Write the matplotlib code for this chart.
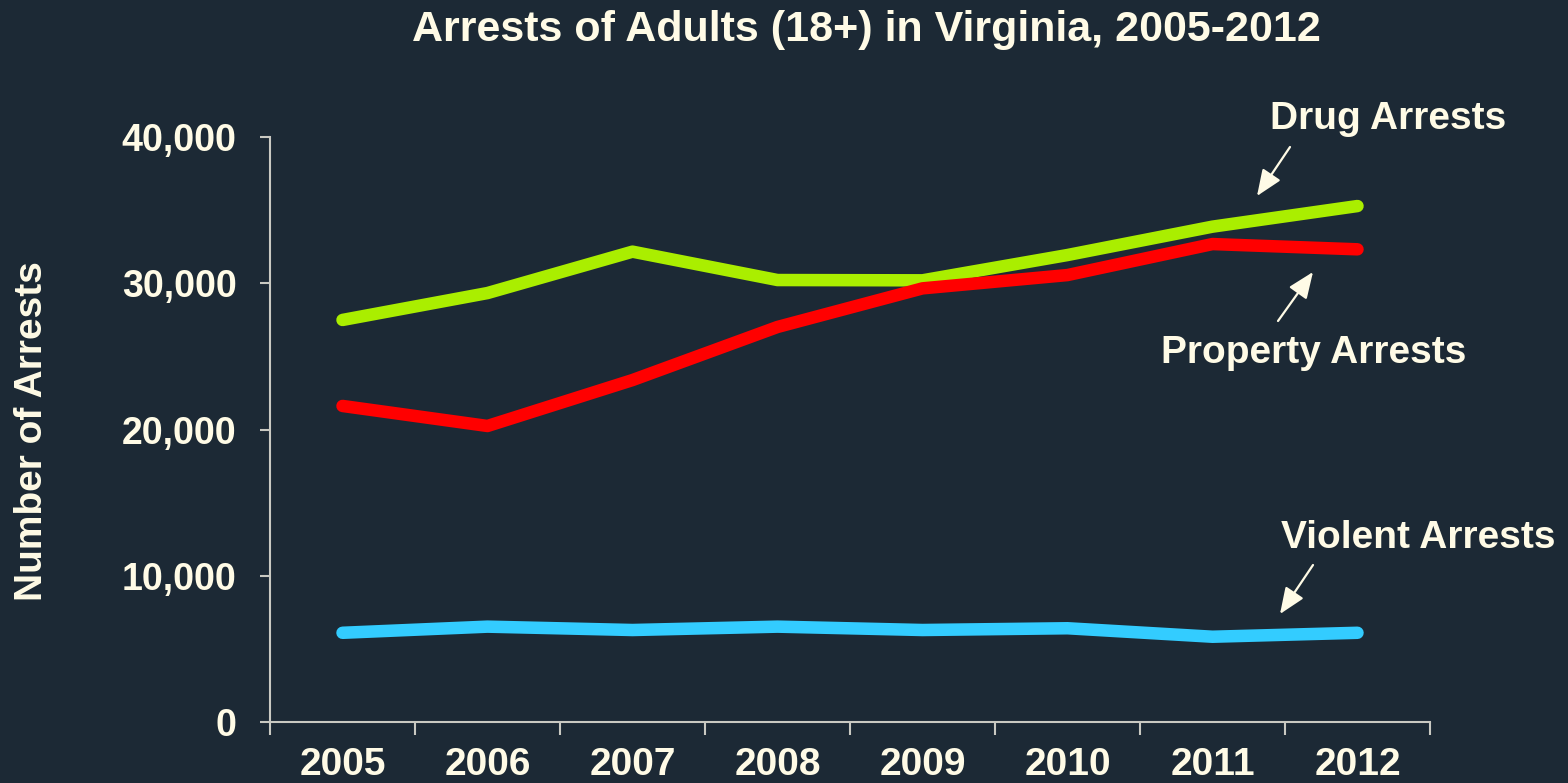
import matplotlib
matplotlib.use("Agg")
import matplotlib.pyplot as plt
import numpy as np

years = ["2005", "2006", "2007", "2008", "2009", "2010", "2011", "2012"]
drug = [27490, 29330, 32160, 30220, 30200, 31930, 33870, 35280]
property_ = [21610, 20240, 23380, 27010, 29650, 30560, 32680, 32320]
violent = [6100, 6520, 6290, 6520, 6290, 6410, 5830, 6100]
yticks = [0, 10000, 20000, 30000, 40000]

BG = "#1c2935"
TXT = "#fffbe6"
AX = "#c9c9c2"

plt.rcParams['font.family'] = ['Liberation Sans', 'DejaVu Sans']
plt.rcParams['font.weight'] = 'bold'

W, H = 1568, 783
fig = plt.figure(figsize=(W / 100, H / 100), dpi=100, facecolor=BG)
ax = fig.add_axes([270 / W, 1 - 722 / H, 1160 / W, 585 / H], facecolor=BG)

x = np.arange(len(years))
lw = 9
ax.plot(x, drug, color="#aaee00", lw=lw, solid_capstyle='round', solid_joinstyle='round', zorder=3)
ax.plot(x, property_, color="#ff0000", lw=lw, solid_capstyle='round', solid_joinstyle='round', zorder=3)
ax.plot(x, violent, color="#33ccff", lw=lw, solid_capstyle='round', solid_joinstyle='round', zorder=3)

ax.set_xlim(-0.5, len(years) - 0.5)
ax.set_ylim(0, 40000)

for s in ['top', 'right']:
    ax.spines[s].set_visible(False)
for s in ['left', 'bottom']:
    ax.spines[s].set_color(AX)
    ax.spines[s].set_linewidth(1.5)

ax.set_yticks(yticks)
ax.set_yticklabels([f"{v:,}" for v in yticks])
ax.tick_params(axis='y', length=7, width=1.5, color=AX, labelcolor=TXT,
               labelsize=27, pad=17)

ax.set_xticks(np.arange(-0.5, len(years)), minor=False)
ax.set_xticklabels([])
ax.set_xticks(x, minor=True)
ax.set_xticklabels(years, minor=True)
ax.tick_params(axis='x', which='major', length=9, width=1.5, color=AX)
ax.tick_params(axis='x', which='minor', length=0, labelcolor=TXT,
               labelsize=28, pad=18)
for t in ax.get_yticklabels() + ax.get_xticklabels(minor=True):
    t.set_fontweight('bold')

fig.text(866 / W, 1 - 30 / H, "Arrests of Adults (18+) in Virginia, 2005-2012",
         ha='center', va='center', fontsize=31, fontweight='bold', color=TXT)
fig.text(32 / W, 1 - 431 / H, "Number of Arrests", rotation=90,
         ha='center', va='center', fontsize=28, fontweight='bold', color=TXT)

def fp(px, py):
    return (px / W, 1 - py / H)

labels = [
    ("Drug Arrests", (1388, 119), (1290, 147), (1257, 196)),
    ("Property Arrests", (1314, 353), (1278, 321), (1313, 272)),
    ("Violent Arrests", (1418, 538), (1313, 565), (1280, 614)),
]
for text, tpos, tail, tip in labels:
    fig.text(*fp(*tpos), text, ha='center', va='center', fontsize=28,
             fontweight='bold', color=TXT)
    ax.annotate("", xy=fp(*tip), xycoords='figure fraction',
                xytext=fp(*tail), textcoords='figure fraction',
                arrowprops=dict(arrowstyle='-|>,head_length=0.8,head_width=0.33',
                                mutation_scale=20, color=TXT, lw=1.6,
                                shrinkA=0, shrinkB=0))

fig.savefig("out.png", dpi=100, facecolor=BG)
